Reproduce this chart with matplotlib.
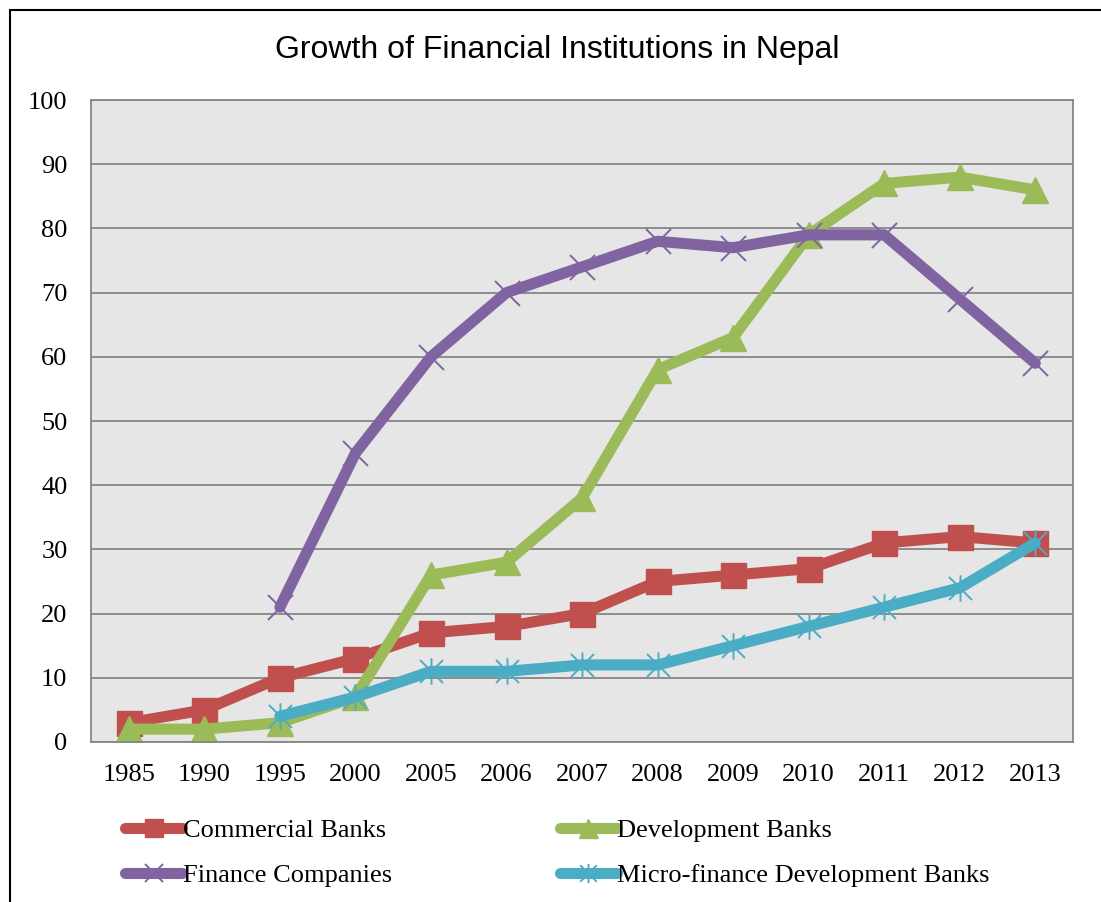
import numpy as np
import matplotlib.pyplot as plt
from matplotlib.path import Path
from matplotlib.patches import Rectangle

# Data
years = ['1985', '1990', '1995', '2000', '2005', '2006', '2007',
         '2008', '2009', '2010', '2011', '2012', '2013']
commercial = [3, 5, 10, 13, 17, 18, 20, 25, 26, 27, 31, 32, 31]
development = [2, 2, 3, 7, 26, 28, 38, 58, 63, 79, 87, 88, 86]
finance = [np.nan, np.nan, 21, 45, 60, 70, 74, 78, 77, 79, 79, 69, 59]
micro = [np.nan, np.nan, 4, 7, 11, 11, 12, 12, 15, 18, 21, 24, 31]

# Excel style star marker (x with a vertical bar)
star = Path([(-1, -1), (1, 1), (-1, 1), (1, -1), (0, -1.15), (0, 1.15)],
            [Path.MOVETO, Path.LINETO, Path.MOVETO, Path.LINETO,
             Path.MOVETO, Path.LINETO])

fig = plt.figure(figsize = (11.01, 9.02), dpi = 100)
ax = fig.add_axes([0.0827, 0.1774, 0.8919, 0.7117])
ax.set_facecolor('#E6E6E6')

x = np.arange(len(years))
lw = 8

# Plot the four series
l1, = ax.plot(x, commercial, color = '#C0504D', lw = lw, marker = 's',
              markersize = 18, label = 'Commercial Banks',
              solid_capstyle = 'round')
l2, = ax.plot(x, development, color = '#9BBB59', lw = lw, marker = '^',
              markersize = 19, label = 'Development Banks',
              solid_capstyle = 'round')
l3, = ax.plot(x, finance, color = '#8064A2', lw = lw, marker = 'x',
              markersize = 18, markeredgewidth = 1.4,
              label = 'Finance Companies', solid_capstyle = 'round')
l4, = ax.plot(x, micro, color = '#4BACC6', lw = lw, marker = star,
              markersize = 19, markeredgewidth = 1.4,
              label = 'Micro-finance Development Banks',
              solid_capstyle = 'round')

# Axes and grid
ax.set_xlim(-0.5, len(years) - 0.5)
ax.set_ylim(0, 100)
ax.set_yticks(range(0, 101, 10))
ax.set_xticks(x)
ax.set_xticklabels(years)
ax.tick_params(length = 0, labelsize = 19)
ax.tick_params(axis = 'x', pad = 16)
ax.tick_params(axis = 'y', pad = 17)
for lab in ax.get_xticklabels() + ax.get_yticklabels():
    lab.set_family('Liberation Serif')
ax.grid(axis = 'y', color = '#868686', lw = 1.3)
ax.set_axisbelow(True)
for s in ax.spines.values():
    s.set_color('#868686')
    s.set_linewidth(1.3)

# Title
fig.text(0.506, 0.945, 'Growth of Financial Institutions in Nepal',
         ha = 'center', va = 'center', fontsize = 23,
         family = 'Liberation Sans')

# Legend, filled row by row like the original
fig.legend(handles = [l1, l3, l2, l4], loc = 'upper left',
           bbox_to_anchor = (0.092, 0.1185), ncol = 2, frameon = False,
           handlelength = 2.17, handletextpad = 0.02, columnspacing = 6.35,
           labelspacing = 0.8, markerscale = 0.72,
           prop = {'family': 'Liberation Serif', 'size': 19})

# Chart border
fig.patches.append(Rectangle((0.009, -0.1), 1.2, 1.089,
                             transform = fig.transFigure, fill = False,
                             edgecolor = 'black', lw = 1.5))

plt.savefig('out.png', dpi = 100)
